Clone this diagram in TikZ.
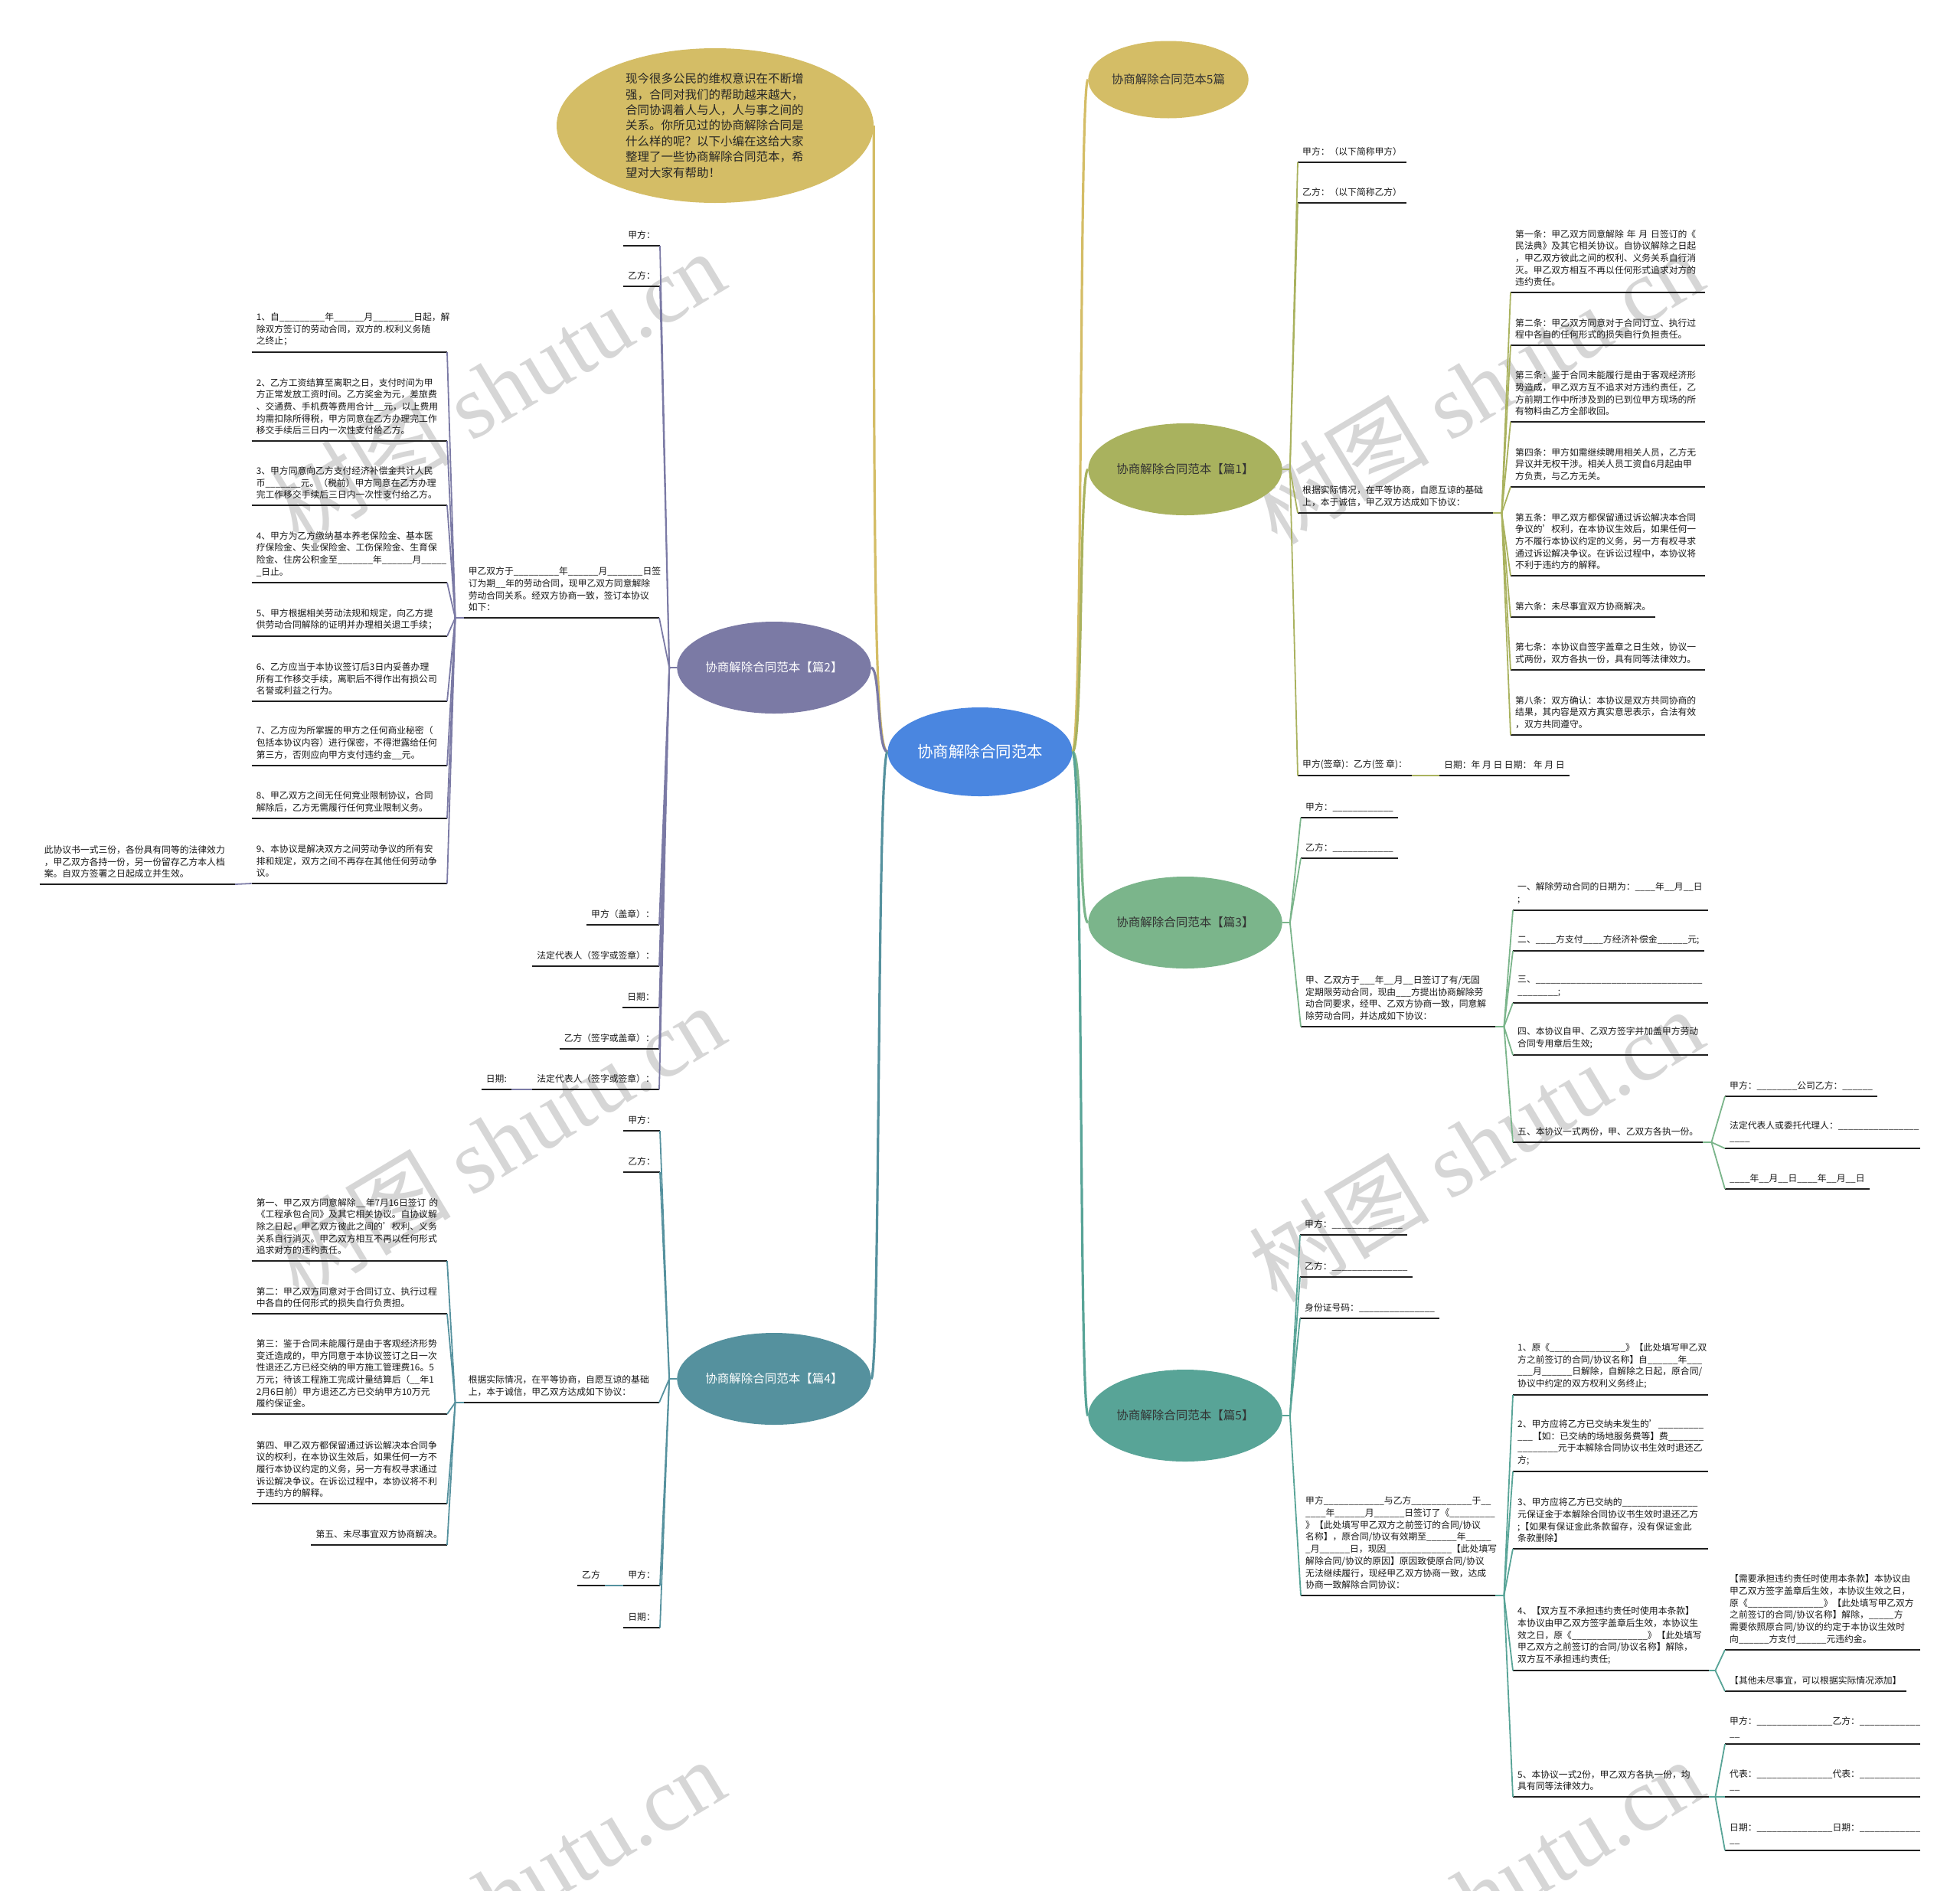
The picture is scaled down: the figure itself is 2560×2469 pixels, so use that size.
\documentclass[tikz,border=0pt]{standalone}
\usepackage{fontspec}
\setmainfont{Noto Sans CJK SC}
\newfontfamily\wmfont{Liberation Serif}
\usetikzlibrary{shapes.geometric}
\definecolor{cblue}{HTML}{4A86E0}
\definecolor{cgold}{HTML}{D4BD66}
\definecolor{colive}{HTML}{A9B25E}
\definecolor{cgreen}{HTML}{7BB58B}
\definecolor{cteal}{HTML}{58A497}
\definecolor{cpurp}{HTML}{7B7AA5}
\definecolor{ctb}{HTML}{55919E}
\newcount\uscnt
\newcommand\us[1]{\uscnt=0\relax\loop\ifnum\uscnt<#1\relax\_\advance\uscnt by 1\relax\repeat}
\tikzset{
 leaf/.style={inner xsep=6pt, inner ysep=8pt, align=left, font=\fontsize{11.8}{15.7}\selectfont, text=black!90},
 leafR/.style={leaf, anchor=south west},
 leafL/.style={leaf, anchor=south east},
 uln/.style={line width=2.3pt, black!88},
 fan/.style={line width=1.8pt, draw=#1},
 mainc/.style={line width=3.2pt, draw=#1},
 branch/.style={ellipse, fill=#1, draw=none, minimum width=252pt, minimum height=120pt, inner sep=0pt, font=\fontsize{15.5}{18}\selectfont, text=black!80},
 wm/.style={rotate=31, text=black!16, font=\fontsize{118}{118}\selectfont},
}
\newcommand\lfR[5]{\node[leafR,text width=#2pt] (#1) at (#3,#4) {#5};\draw[uln] (#1.south west) -- (#1.south east);}
\newcommand\lfL[5]{\node[leafL,text width=#2pt] (#1) at (#3,#4) {#5};\draw[uln] (#1.south west) -- (#1.south east);}
\newcommand\lsR[4]{\node[leafR] (#1) at (#2,#3) {#4};\draw[uln] (#1.south west) -- (#1.south east);}
\newcommand\lsL[4]{\node[leafL] (#1) at (#2,#3) {#4};\draw[uln] (#1.south west) -- (#1.south east);}
\begin{document}
\begin{tikzpicture}[x=1pt,y=-1pt]
\fill[white] (0,0) rectangle (2560,2469);
\useasboundingbox (0,0) rectangle (2560,2469);
% watermarks
\node[wm] (w1) at (650,505) {树图 {\wmfont shutu.cn}};
\node[wm] (w2) at (1928,505) {树图 {\wmfont shutu.cn}};
\node[wm] (w3) at (650,1490) {树图 {\wmfont shutu.cn}};
\node[wm] (w4) at (1928,1495) {树图 {\wmfont shutu.cn}};
\node[wm] (w5) at (650,2475) {树图 {\wmfont shutu.cn}};
\node[wm] (w6) at (1928,2475) {树图 {\wmfont shutu.cn}};

% main nodes
\node[ellipse, fill=cblue, minimum width=241pt, minimum height=116pt, inner sep=0pt, text=white, font=\fontsize{20.5}{24}\selectfont] (c) at (1280,982) {协商解除合同范本};
\node[ellipse, fill=cgold, minimum width=414pt, minimum height=202pt, inner sep=0pt, text width=234pt, align=left, text=black!85, font=\fontsize{15.5}{20.4}\selectfont] (intro) at (934,164) {现今很多公民的维权意识在不断增\\强，合同对我们的帮助越来越大，\\合同协调着人与人，人与事之间的\\关系。你所见过的协商解除合同是\\什么样的呢？以下小编在这给大家\\整理了一些协商解除合同范本，希\\望对大家有帮助！};
\node[branch=cgold, minimum width=208pt, minimum height=101pt] (p0) at (1526,104) {协商解除合同范本5篇};
\node[branch=colive] (p1) at (1548,613) {协商解除合同范本【篇1】};
\node[branch=cgreen] (p3) at (1548,1205) {协商解除合同范本【篇3】};
\node[branch=cteal] (p5) at (1548,1849) {协商解除合同范本【篇5】};
\node[branch=cpurp, text=white] (p2) at (1011,872) {协商解除合同范本【篇2】};
\node[branch=ctb, text=white] (p4) at (1011,1801) {协商解除合同范本【篇4】};

\draw[mainc=cgold] (c.west) .. controls +(-16,0) and +(0,600) .. (intro.east);
\draw[mainc=cpurp] (c.west) .. controls +(-14,0) and +(12,0) .. (p2.east);
\draw[mainc=ctb] (c.west) .. controls +(-14,0) and +(12,0) .. (p4.east);
\draw[mainc=cgold] (c.east) .. controls +(14,0) and +(-12,0) .. (p0.west);
\draw[mainc=colive] (c.east) .. controls +(14,0) and +(-12,0) .. (p1.west);
\draw[mainc=cgreen] (c.east) .. controls +(14,0) and +(-12,0) .. (p3.west);
\draw[mainc=cteal] (c.east) .. controls +(14,0) and +(-12,0) .. (p5.west);

% ===== 篇1 =====
\lsR{r1a}{1695}{212}{甲方：（以下简称甲方）}
\lsR{r1b}{1695}{265}{乙方：（以下简称乙方）}
\lfR{r1c}{243}{1695}{670}{根据实际情况，在平等协商，自愿互谅的基础\\上，本于诚信，甲乙双方达成如下协议：}
\lsR{r1d}{1695}{1013}{甲方(签章)：乙方(签 章)：}
\lsR{r1e}{1880}{1013}{日期：年 月 日 日期： 年 月 日}
\lfR{r1c1}{242}{1973}{382}{第一条：甲乙双方同意解除 年 月 日签订的《\\民法典》及其它相关协议。自协议解除之日起\\，甲乙双方彼此之间的权利、义务关系自行消\\灭。甲乙双方相互不再以任何形式追求对方的\\违约责任。}
\lfR{r1c2}{242}{1973}{451}{第二条：甲乙双方同意对于合同订立、执行过\\程中各自的任何形式的损失自行负担责任。}
\lfR{r1c3}{242}{1973}{551}{第三条：鉴于合同未能履行是由于客观经济形\\势造成，甲乙双方互不追求对方违约责任，乙\\方前期工作中所涉及到的已到位甲方现场的所\\有物料由乙方全部收回。}
\lfR{r1c4}{242}{1973}{636}{第四条：甲方如需继续聘用相关人员，乙方无\\异议并无权干涉。相关人员工资自6月起由甲\\方负责，与乙方无关。}
\lfR{r1c5}{242}{1973}{752}{第五条：甲乙双方都保留通过诉讼解决本合同\\争议的'权利，在本协议生效后，如果任何一\\方不履行本协议约定的义务，另一方有权寻求\\通过诉讼解决争议。在诉讼过程中，本协议将\\不利于违约方的解释。}
\lsR{r1c6}{1973}{806}{第六条：未尽事宜双方协商解决。}
\lfR{r1c7}{242}{1973}{875}{第七条：本协议自签字盖章之日生效，协议一\\式两份，双方各执一份，具有同等法律效力。}
\lfR{r1c8}{242}{1973}{960}{第八条：双方确认：本协议是双方共同协商的\\结果，其内容是双方真实意思表示，合法有效\\，双方共同遵守。}
\foreach \n in {r1a,r1b,r1c,r1d} \draw[fan=colive] (p1.east) -- ++(10,0) -- (\n.south west);
\foreach \n in {r1c1,r1c2,r1c3,r1c4,r1c5,r1c6,r1c7,r1c8} \draw[fan=colive] (r1c.south east) -- ++(11,0) -- (\n.south west);
\draw[fan=colive] (r1d.south east) -- (r1e.south west);

% ===== 篇3 =====
\lsR{r3a}{1699}{1068}{甲方：\us{12}}
\lsR{r3b}{1699}{1121}{乙方：\us{12}}
\lfR{r3c}{242}{1699}{1341}{甲、乙双方于\us{3}年\us{2}月\us{2}日签订了有/无固\\定期限劳动合同，现由\us{3}方提出协商解除劳\\动合同要求，经甲、乙双方协商一致，同意解\\除劳动合同，并达成如下协议：}
\lfR{r3c1}{243}{1976}{1189}{一、解除劳动合同的日期为：\us{4}年\us{2}月\us{2}日\\;}
\lsR{r3c2}{1976}{1242}{二、\us{4}方支付\us{4}方经济补偿金\us{6}元;}
\lfR{r3c3}{243}{1976}{1310}{三、\us{33}\\\us{8};}
\lfR{r3c4}{243}{1976}{1378}{四、本协议自甲、乙双方签字并加盖甲方劳动\\合同专用章后生效;}
\lsR{r3c5}{1976}{1492}{五、本协议一式两份，甲、乙双方各执一份。}
\lsR{r3d1}{2253}{1432}{甲方：\us{8}公司乙方：\us{6}}
\lfR{r3d2}{243}{2253}{1500}{法定代表人或委托代理人：\us{16}\\\us{4}}
\lsR{r3d3}{2253}{1553}{\us{4}年\us{2}月\us{2}日\us{4}年\us{2}月\us{2}日}
\foreach \n in {r3a,r3b,r3c} \draw[fan=cgreen] (p3.east) -- ++(10,0) -- (\n.south west);
\foreach \n in {r3c1,r3c2,r3c3,r3c4,r3c5} \draw[fan=cgreen] (r3c.south east) -- ++(11,0) -- (\n.south west);
\foreach \n in {r3d1,r3d2,r3d3} \draw[fan=cgreen] (r3c5.south east) -- ++(11,0) -- (\n.south west);

% ===== 篇5 =====
\lsR{r5a}{1698}{1613}{甲方：\us{14}}
\lsR{r5b}{1698}{1668}{乙方：\us{15}}
\lsR{r5c}{1698}{1722}{身份证号码：\us{15}}
\lfR{r5d}{242}{1699}{2084}{甲方\us{12}与乙方\us{12}于\us{2}\\\us{4}年\us{6}月\us{6}日签订了《\us{9}\\》【此处填写甲乙双方之前签订的合同/协议\\名称】，原合同/协议有效期至\us{6}年\us{5}\\\us{1}月\us{6}日，现因\us{13}【此处填写\\解除合同/协议的原因】原因致使原合同/协议\\无法继续履行，现经甲乙双方协商一致，达成\\协商一致解除合同协议：}
\lfR{r5e1}{243}{1976}{1822}{1、原《\us{15}》【此处填写甲乙双\\方之前签订的合同/协议名称】自\us{6}年\us{3}\\\us{3}月\us{6}日解除，自解除之日起，原合同/\\协议中约定的双方权利义务终止;}
\lfR{r5e2}{243}{1976}{1922}{2、甲方应将乙方已交纳未发生的'\us{9}\\\us{3}【如：已交纳的场地服务费等】费\us{7}\\\us{8}元于本解除合同协议书生效时退还乙\\方;}
\lfR{r5e3}{243}{1976}{2023}{3、甲方应将乙方已交纳的\us{15}\\元保证金于本解除合同协议书生效时退还乙方\\;【如果有保证金此条款留存，没有保证金此\\条款删除】}
\lfR{r5e4}{244}{1976}{2182}{4、【双方互不承担违约责任时使用本条款】\\本协议由甲乙双方签字盖章后生效，本协议生\\效之日，原《\us{15}》【此处填写\\甲乙双方之前签订的合同/协议名称】解除，\\双方互不承担违约责任;}
\lfR{r5e5}{244}{1976}{2347}{5、本协议一式2份，甲乙双方各执一份，均\\具有同等法律效力。}
\lfR{r5f1}{243}{2253}{2155}{【需要承担违约责任时使用本条款】本协议由\\甲乙双方签字盖章后生效，本协议生效之日，\\原《\us{15}》【此处填写甲乙双方\\之前签订的合同/协议名称】解除，\us{5}方\\需要依照原合同/协议的约定于本协议生效时\\向\us{6}方支付\us{6}元违约金。}
\lsR{r5f2}{2253}{2209}{【其他未尽事宜，可以根据实际情况添加】}
\lfR{r5g1}{243}{2253}{2278}{甲方：\us{15}乙方：\us{12}\\\us{2}}
\lfR{r5g2}{243}{2253}{2347}{代表：\us{15}代表：\us{12}\\\us{2}}
\lfR{r5g3}{243}{2253}{2417}{日期：\us{15}日期：\us{12}\\\us{2}}
\foreach \n in {r5a,r5b,r5c,r5d} \draw[fan=cteal] (p5.east) -- ++(10,0) -- (\n.south west);
\foreach \n in {r5e1,r5e2,r5e3,r5e4,r5e5} \draw[fan=cteal] (r5d.south east) -- ++(11,0) -- (\n.south west);
\foreach \n in {r5f1,r5f2} \draw[fan=cteal] (r5e4.south east) -- ++(8,0) -- (\n.south west);
\foreach \n in {r5g1,r5g2,r5g3} \draw[fan=cteal] (r5e5.south east) -- ++(8,0) -- (\n.south west);

% ===== 篇2 =====
\lsL{l2a}{862}{321}{甲方：}
\lsL{l2b}{862}{374}{乙方：}
\lfL{l2c}{243}{861}{807}{甲乙双方于\us{9}年\us{6}月\us{7}日签\\订为期\us{2}年的劳动合同，现甲乙双方同意解除\\劳动合同关系。经双方协商一致，签订本协议\\如下：}
\lfL{i1}{243}{584}{460}{1、自\us{9}年\us{6}月\us{8}日起，解\\除双方签订的劳动合同，双方的.权利义务随\\之终止；}
\lfL{i2}{243}{584}{576}{2、乙方工资结算至离职之日，支付时间为甲\\方正常发放工资时间。乙方奖金为元，差旅费\\、交通费、手机费等费用合计\us{2}元，以上费用\\均需扣除所得税，甲方同意在乙方办理完工作\\移交手续后三日内一次性支付给乙方。}
\lfL{i3}{243}{584}{660}{3、甲方同意向乙方支付经济补偿金共计人民\\币\us{7}元。（税前）甲方同意在乙方办理\\完工作移交手续后三日内一次性支付给乙方。}
\lfL{i4}{243}{584}{761}{4、甲方为乙方缴纳基本养老保险金、基本医\\疗保险金、失业保险金、工伤保险金、生育保\\险金、住房公积金至\us{7}年\us{6}月\us{5}\\\us{1}日止。}
\lfL{i5}{243}{584}{831}{5、甲方根据相关劳动法规和规定，向乙方提\\供劳动合同解除的证明并办理相关退工手续；}
\lfL{i6}{243}{584}{916}{6、乙方应当于本协议签订后3日内妥善办理\\所有工作移交手续，离职后不得作出有损公司\\名誉或利益之行为。}
\lfL{i7}{243}{584}{1000}{7、乙方应为所掌握的甲方之任何商业秘密（\\包括本协议内容）进行保密，不得泄露给任何\\第三方，否则应向甲方支付违约金\us{2}元。}
\lfL{i8}{243}{584}{1069}{8、甲乙双方之间无任何竞业限制协议，合同\\解除后，乙方无需履行任何竞业限制义务。}
\lfL{i9}{243}{584}{1154}{9、本协议是解决双方之间劳动争议的所有安\\排和规定，双方之间不再存在其他任何劳动争\\议。}
\lfL{i9c}{243}{307}{1155}{此协议书一式三份，各份具有同等的法律效力\\，甲乙双方各持一份，另一份留存乙方本人档\\案。自双方签署之日起成立并生效。}
\lsL{l2d}{861}{1208}{甲方（盖章）：}
\lsL{l2e}{861}{1262}{法定代表人（签字或签章）：}
\lsL{l2f}{861}{1316}{日期：}
\lsL{l2g}{861}{1370}{乙方（签字或盖章）：}
\lsL{l2h}{861}{1423}{法定代表人（签字或签章）：}
\lsL{l2i}{668}{1423}{日期:}
\foreach \n in {l2a,l2b,l2c,l2d,l2e,l2f,l2g,l2h} \draw[fan=cpurp] (p2.west) -- ++(-10,0) -- (\n.south east);
\foreach \n in {i1,i2,i3,i4,i5,i6,i7,i8,i9} \draw[fan=cpurp] (l2c.south west) -- ++(-11,0) -- (\n.south east);
\draw[fan=cpurp] (i9.south west) -- (i9c.south east);
\draw[fan=cpurp] (l2h.south west) -- (l2i.south east);

% ===== 篇4 =====
\lsL{l4a}{862}{1477}{甲方：}
\lsL{l4b}{862}{1531}{乙方：}
\lfL{l4c}{243}{861}{1832}{根据实际情况，在平等协商，自愿互谅的基础\\上，本于诚信，甲乙双方达成如下协议：}
\lfL{k1}{243}{584}{1647}{第一、甲乙双方同意解除\us{2}年7月16日签订~的\\《工程承包合同》及其它相关协议。自协议解\\除之日起，甲乙双方彼此之间的'权利、义务\\关系自行消灭。甲乙双方相互不再以任何形式\\追求对方的违约责任。}
\lfL{k2}{243}{584}{1716}{第二：甲乙双方同意对于合同订立、执行过程\\中各自的任何形式的损失自行负责担。}
\lfL{k3}{243}{584}{1847}{第三：鉴于合同未能履行是由于客观经济形势\\变迁造成的，甲方同意于本协议签订之日一次\\性退还乙方已经交纳的甲方施工管理费16。5\\万元；待该工程施工完成计量结算后（\us{2}年1\\2月6日前）甲方退还乙方已交纳甲方10万元\\履约保证金。}
\lfL{k4}{243}{584}{1964}{第四、甲乙双方都保留通过诉讼解决本合同争\\议的权利，在本协议生效后，如果任何一方不\\履行本协议约定的义务，另一方有权寻求通过\\诉讼解决争议。在诉讼过程中，本协议将不利\\于违约方的解释。}
\lsL{k5}{584}{2018}{第五、未尽事宜双方协商解决。}
\lsL{l4d}{862}{2071}{甲方：}
\lsL{l4dc}{790}{2071}{乙方}
\lsL{l4e}{862}{2126}{日期：}
\foreach \n in {l4a,l4b,l4c,l4d,l4e} \draw[fan=ctb] (p4.west) -- ++(-10,0) -- (\n.south east);
\foreach \n in {k1,k2,k3,k4,k5} \draw[fan=ctb] (l4c.south west) -- ++(-11,0) -- (\n.south east);
\draw[fan=ctb] (l4d.south west) -- (l4dc.south east);
\end{tikzpicture}
\end{document}
